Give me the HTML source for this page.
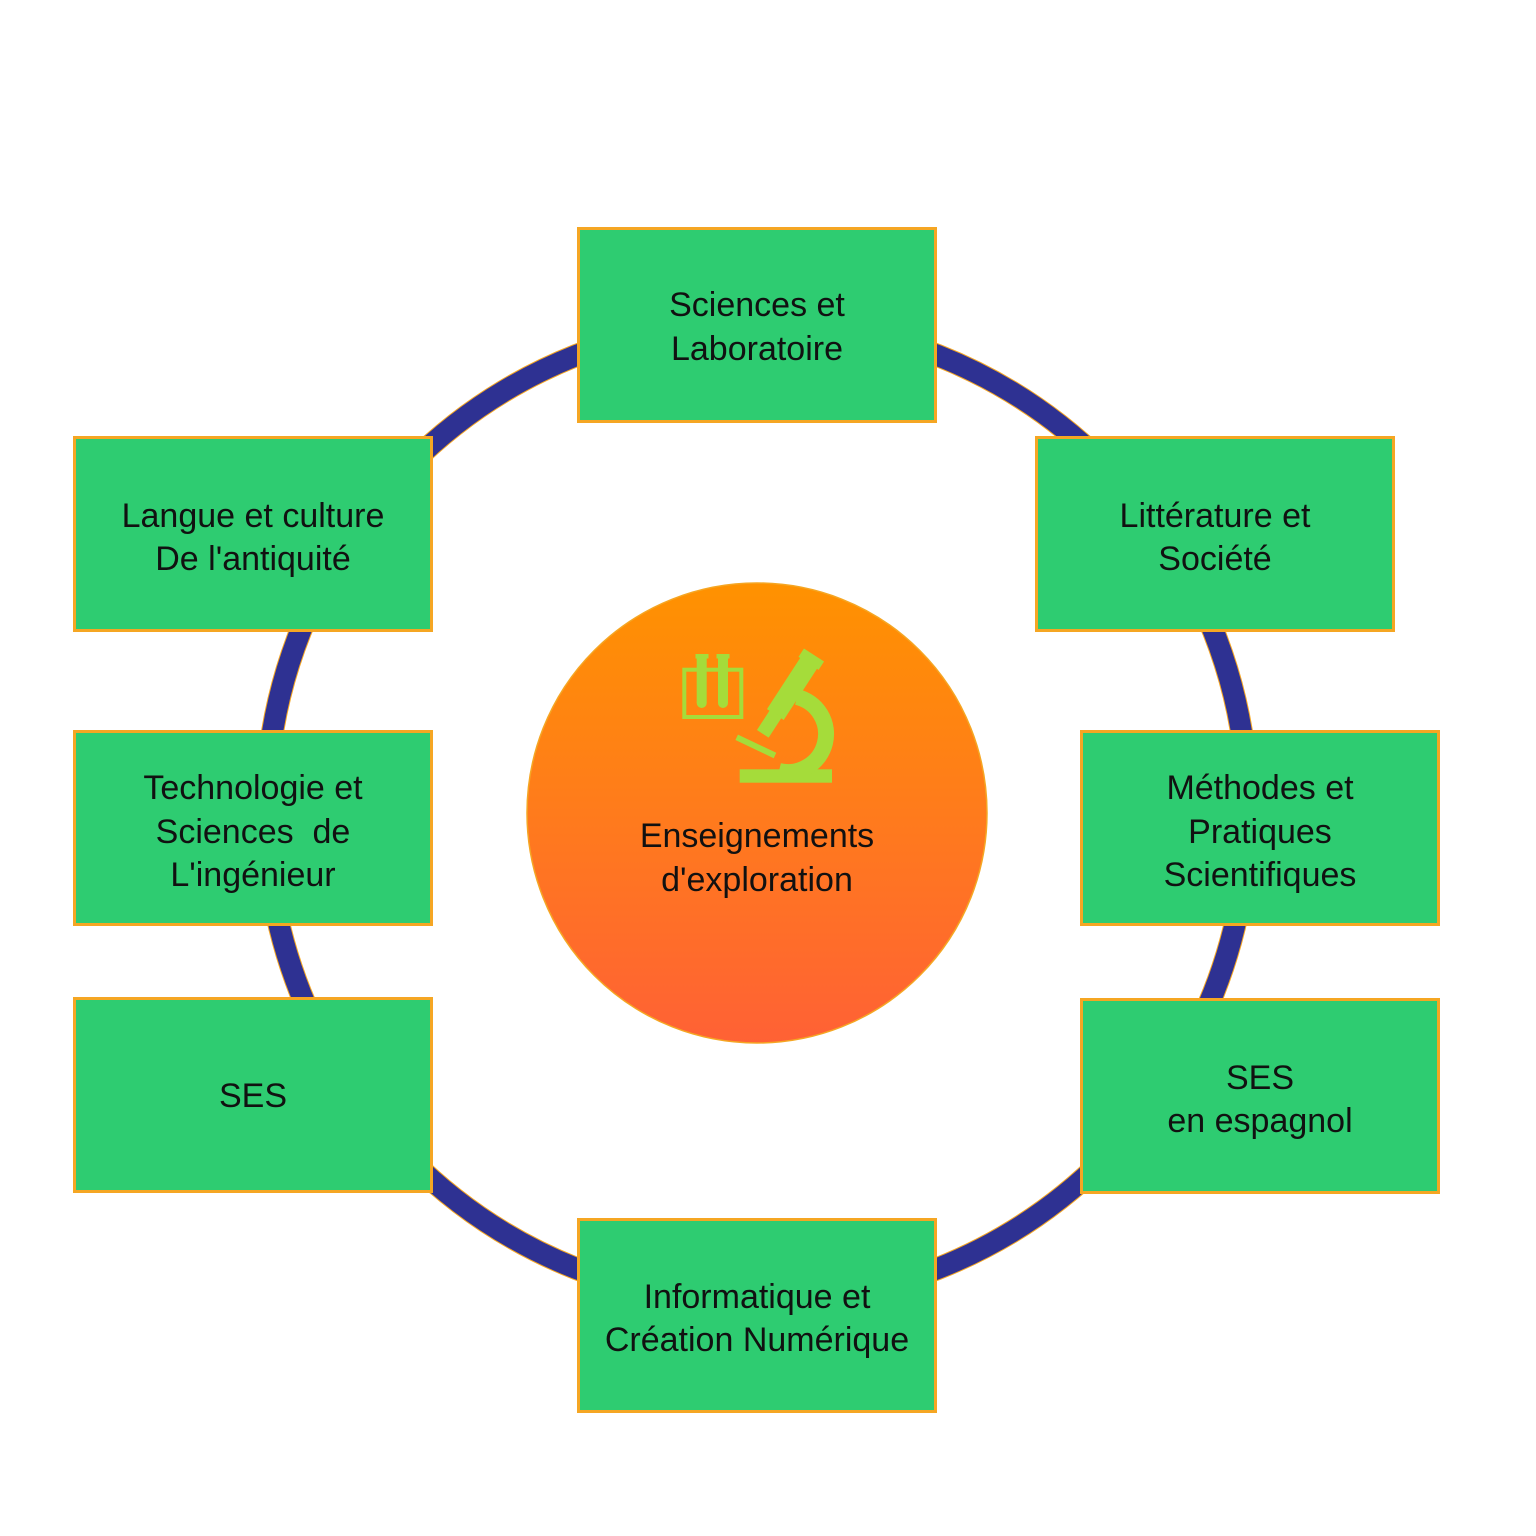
<!DOCTYPE html>
<html>
<head>
<meta charset="utf-8">
<style>
  html, body { margin: 0; padding: 0; background: #ffffff; }
  body { width: 1536px; height: 1536px; overflow: hidden; }
  svg { display: block; }
  text { font-family: "Liberation Sans", "DejaVu Sans", sans-serif; font-size: 34px; fill: #111111; }
</style>
</head>
<body>
<svg width="1536" height="1536" viewBox="0 0 1536 1536" xmlns="http://www.w3.org/2000/svg">
  <defs>
    <linearGradient id="og" x1="0" y1="0" x2="0" y2="1">
      <stop offset="0" stop-color="#FF9200"/>
      <stop offset="0.5" stop-color="#FF7B1C"/>
      <stop offset="1" stop-color="#FF6135"/>
    </linearGradient>
  </defs>

  <rect x="0" y="0" width="1536" height="1536" fill="#ffffff"/>

  <!-- ring -->
  <circle cx="757" cy="812" r="491" fill="none" stroke="#F5A623" stroke-width="23"/>
  <circle cx="757" cy="812" r="491" fill="none" stroke="#2E3192" stroke-width="21"/>

  <!-- center circle -->
  <circle cx="757" cy="813" r="230" fill="url(#og)" stroke="#F5A623" stroke-width="1.5"/>

  <!-- icon: test tube rack -->
  <g fill="#A5DC3A">
    <rect x="684.3" y="669.7" width="57" height="47.3" fill="none" stroke="#A5DC3A" stroke-width="4"/>
    <rect x="695.5" y="654" width="13" height="4.5"/>
    <rect x="696.7" y="656" width="10" height="47"/>
    <circle cx="701.7" cy="703" r="5"/>
    <rect x="716.5" y="654" width="13" height="4.5"/>
    <rect x="718" y="656" width="10" height="47"/>
    <circle cx="723" cy="703" r="5"/>
  </g>

  <!-- icon: microscope -->
  <g fill="#A5DC3A">
    <rect x="739.7" y="769.3" width="92.3" height="13.4"/>
    <path d="M 797 697 A 38 38 0 0 1 779 771" fill="none" stroke="#A5DC3A" stroke-width="16"/>
    <g transform="translate(814,655) rotate(33)">
      <rect x="-12" y="0" width="24" height="10"/>
      <rect x="-10" y="9" width="20" height="62"/>
      <rect x="-7" y="70" width="14" height="24"/>
    </g>
    <line x1="736.7" y1="737.3" x2="775" y2="755.5" stroke="#A5DC3A" stroke-width="6"/>
  </g>

  <text x="757" y="847" text-anchor="middle">Enseignements</text>
  <text x="757" y="891" text-anchor="middle">d'exploration</text>

  <!-- boxes -->
  <g fill="#2ECC71" stroke="#F5A623" stroke-width="3">
    <rect x="578.5" y="228.5" width="357" height="193"/>
    <rect x="74.5" y="437.5" width="357" height="193"/>
    <rect x="1036.5" y="437.5" width="357" height="193"/>
    <rect x="74.5" y="731.5" width="357" height="193"/>
    <rect x="1081.5" y="731.5" width="357" height="193"/>
    <rect x="74.5" y="998.5" width="357" height="193"/>
    <rect x="1081.5" y="999.5" width="357" height="193"/>
    <rect x="578.5" y="1219.5" width="357" height="192"/>
  </g>

  <!-- labels -->
  <text x="757" y="316" text-anchor="middle">Sciences et</text>
  <text x="757" y="360" text-anchor="middle">Laboratoire</text>

  <text x="253" y="527" text-anchor="middle">Langue et culture</text>
  <text x="253" y="570" text-anchor="middle">De l'antiquité</text>

  <text x="1215" y="527" text-anchor="middle">Littérature et</text>
  <text x="1215" y="570" text-anchor="middle">Société</text>

  <text x="253" y="799" text-anchor="middle">Technologie et</text>
  <text x="253" y="843" text-anchor="middle" xml:space="preserve">Sciences  de</text>
  <text x="253" y="886" text-anchor="middle">L'ingénieur</text>

  <text x="1260" y="799" text-anchor="middle">Méthodes et</text>
  <text x="1260" y="843" text-anchor="middle">Pratiques</text>
  <text x="1260" y="886" text-anchor="middle">Scientifiques</text>

  <text x="253" y="1107" text-anchor="middle">SES</text>

  <text x="1260" y="1089" text-anchor="middle">SES</text>
  <text x="1260" y="1132" text-anchor="middle">en espagnol</text>

  <text x="757" y="1308" text-anchor="middle">Informatique et</text>
  <text x="757" y="1351" text-anchor="middle">Création Numérique</text>
</svg>
</body>
</html>
